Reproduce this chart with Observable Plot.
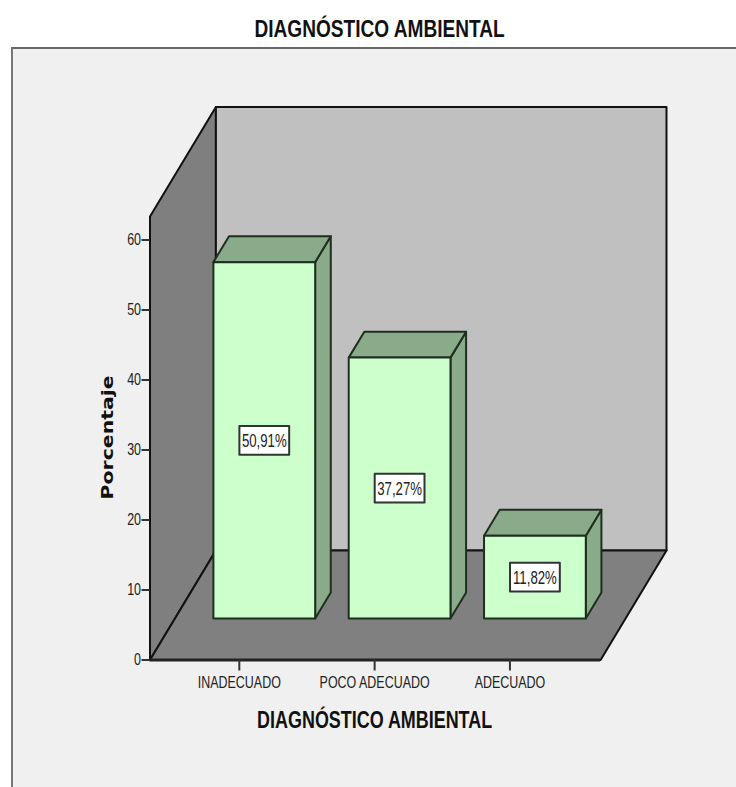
<!DOCTYPE html>
<html>
<head>
<meta charset="utf-8">
<script src="https://cdn.jsdelivr.net/npm/d3@7"></script>
<script src="https://cdn.jsdelivr.net/npm/@observablehq/plot@0.6"></script>
<style>
  html, body { margin: 0; padding: 0; background: #fff; overflow: hidden; }
  #title { height: 47px; width: 760px; text-align: center; white-space: nowrap;
    font: bold 24.5px/58px "Liberation Sans", sans-serif; color: #111; }
  #title span { display: inline-block; transform: scaleX(0.779); }
  #frame { margin-left: 11px; width: 725px; height: 740px; box-sizing: border-box; border-left: 2px solid #777; border-top: 2px solid #666; background: #f0f0f0; overflow: hidden; }
  svg { display: block; }
</style>
</head>
<body>
<div id="title"><span>DIAGNÓSTICO AMBIENTAL</span></div>
<div id="frame"></div>
<script>
const categories = ["INADECUADO", "POCO ADECUADO", "ADECUADO"];
const percentages = [50.91, 37.27, 11.82];
const labels = ["50,91%", "37,27%", "11,82%"];
const yTicks = [0, 10, 20, 30, 40, 50, 60];

const chartTitleX = "DIAGNÓSTICO AMBIENTAL";
const chartTitleY = "Porcentaje";

// Oblique projection, in data units: depth d runs from 0 (front) to 1 (back)
const depthX = 0.487, depthY = 15.64;
const floorMin = -0.66, floorMax = 2.67, wallTop = 63.36;
const barHalf = 0.376, barD0 = 0.379, barD1 = 0.616;
const boxHalfX = 0.184, boxHalfY = 2.05;

const project = (c, v, d) => ({x: c + d * depthX, y: v + d * depthY});
const faces = [];
function face(id, fill, stroke, pts) {
  for (const [c, v, d] of pts) faces.push({id, fill, stroke, ...project(c, v, d)});
}
face("left", "#7f7f7f", "#111", [[floorMin,0,0],[floorMin,wallTop,0],[floorMin,wallTop,1],[floorMin,0,1]]);
face("back", "#c0c0c0", "#111", [[floorMin,0,1],[floorMin,wallTop,1],[floorMax,wallTop,1],[floorMax,0,1]]);
face("floor", "#808080", "#111", [[floorMin,0,0],[floorMax,0,0],[floorMax,0,1],[floorMin,0,1]]);

percentages.forEach((v, i) => {
  const l = i - barHalf, r = i + barHalf;
  face(`side${i}`, "#89ab89", "#1f2f1f", [[r,0,barD0],[r,0,barD1],[r,v,barD1],[r,v,barD0]]);
  face(`top${i}`, "#89ab89", "#1f2f1f", [[l,v,barD0],[r,v,barD0],[r,v,barD1],[l,v,barD1]]);
  face(`front${i}`, "#ccffcc", "#1f2f1f", [[l,0,barD0],[r,0,barD0],[r,v,barD0],[l,v,barD0]]);
  const cx = i + barD0 * depthX, cy = v / 2 + barD0 * depthY;
  const bx = [[cx-boxHalfX,cy-boxHalfY],[cx+boxHalfX,cy-boxHalfY],[cx+boxHalfX,cy+boxHalfY],[cx-boxHalfX,cy+boxHalfY]];
  bx.forEach(([x, y]) => faces.push({id:`box${i}`, fill:"#fff", stroke:"#333", x, y}));
});

const labelRows = percentages.map((v, i) => ({
  x: i + barD0 * depthX, y: v / 2 + barD0 * depthY, text: labels[i]
}));

const chart = Plot.plot({
  width: 723, height: 738,
  marginLeft: 136.5, marginRight: 70, marginTop: 57.5, marginBottom: 127.5,
  style: {background: "transparent", fontFamily: '"Liberation Sans", sans-serif', color: "#222"},
  x: {domain: [floorMin, floorMax + depthX]},
  y: {domain: [0, wallTop + depthY]},
  color: {type: "identity"},
  marks: [
    Plot.line(faces.filter(d => !/^box/.test(d.id)), {
      x: "x", y: "y", z: "id", fill: "fill", stroke: "stroke",
      strokeWidth: 2, curve: "linear-closed"
    }),
    Plot.ruleY([0], {x1: floorMin, x2: floorMax, stroke: "#222", strokeWidth: 3}),
    Plot.line(faces.filter(d => /^box/.test(d.id)), {
      x: "x", y: "y", z: "id", fill: "fill", stroke: "stroke",
      strokeWidth: 2, curve: "linear-closed"
    }),
    Plot.text(labelRows, {x: "x", y: "y", dy: 1, text: "text", fontSize: 17.5, fill: "#222"}),
    Plot.axisY(yTicks, {tickSize: 8, tickPadding: 1, fontSize: 16.5, label: null, stroke: "#333", strokeWidth: 2}),
    Plot.axisX([0, 1, 2], {tickSize: 11, tickPadding: 5, fontSize: 16.5, label: null, stroke: "#333", strokeWidth: 2,
      tickFormat: i => categories[i]}),
    Plot.text([chartTitleX], {x: 1, y: 0, dy: 60.5, text: d => d, fontSize: 24, fontWeight: "bold", fill: "#111", className: "xlab"}),
    Plot.text([chartTitleY], {x: floorMin, y: 31.8, dx: -42, text: d => d, rotate: -90, className: "ylab",
      fontFamily: '"DejaVu Sans", sans-serif', fontSize: 15, fontWeight: "bold", fill: "#111"})
  ]
});
document.getElementById("frame").append(chart);

// The reference's type is condensed: squeeze each label horizontally once it can be measured
chart.querySelectorAll("text").forEach(t => {
  const inGroup = c => t.closest("." + c) || t.classList.contains(c);
  const len = t.getComputedTextLength();
  const target = inGroup("ylab") ? 124 : inGroup("xlab") ? 235 : len * 0.755;
  t.setAttribute("lengthAdjust", "spacingAndGlyphs");
  t.setAttribute("textLength", target);
});
</script>
</body>
</html>
